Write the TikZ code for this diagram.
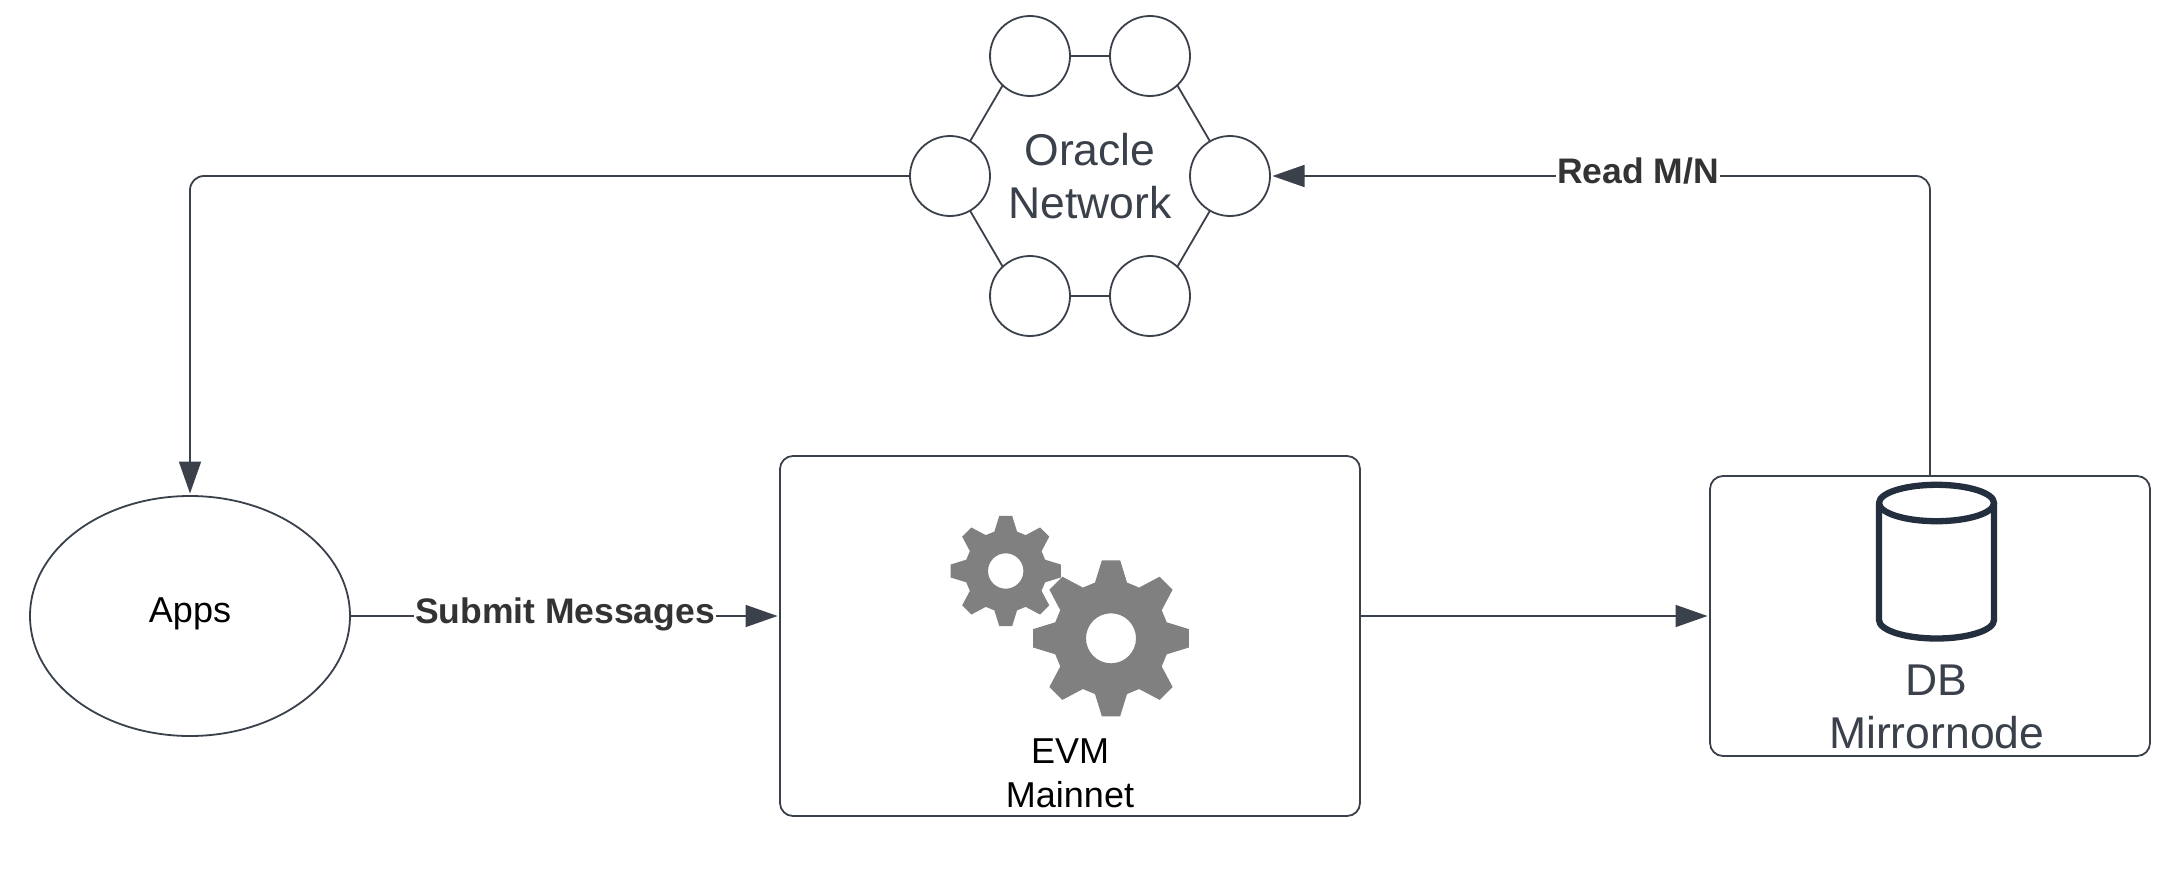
\documentclass[tikz,border=0pt]{standalone}
\usepackage{fontspec}
\setmainfont{Liberation Sans}
\usetikzlibrary{arrows.meta,shapes.geometric}
\definecolor{lineC}{HTML}{3A414A}
\definecolor{dbC}{HTML}{232F3E}
\definecolor{gearC}{HTML}{808080}
\definecolor{lblC}{HTML}{333333}
\tikzset{
  conn/.style={draw=lineC,line width=1.8pt},
  arrowconn/.style={conn,-{Triangle[length=32pt,width=22pt,color=lineC]},shorten >=2.5pt,rounded corners=14pt},
  ring/.style={circle,draw=lineC,line width=1.8pt,fill=white,minimum size=80pt,inner sep=0pt,outer sep=0pt},
  panel/.style={rectangle,draw=lineC,line width=1.8pt,fill=white,rounded corners=13pt,inner sep=0pt,outer sep=0pt},
  bigtext/.style={text=lineC,font=\fontsize{44.5}{53.5}\selectfont,align=center,inner sep=0pt},
  blacktext/.style={text=black,font=\fontsize{36}{43.5}\selectfont,align=center,inner sep=0pt},
  edgelabel/.style={text=lblC,font=\fontsize{35.5}{43}\selectfont\bfseries,fill=white,inner sep=1pt},
  gearshape/.style={fill=gearC,even odd rule,draw=none},
}
% #1 centre, #2 outer radius, #3 root radius, #4 hole radius
\newcommand{\cogwheel}[4]{%
  \fill[gearshape,shift={#1}] (-6.7:#2)
    \foreach \a in {0,45,...,315}{
      -- (\a-6.7:#2) -- (\a+6.7:#2) -- (\a+16:#3) -- (\a+29:#3)
    } -- cycle (0,0) circle[radius=#4];%
}
\begin{document}
\begin{tikzpicture}[x=1pt,y=-1pt]
\useasboundingbox[fill=white] (0,0) rectangle (2180,870);
% Oracle network
\node[ring] (n1) at (1030,56) {};
\node[ring] (n2) at (1150,56) {};
\node[ring] (n3) at (1230,176) {};
\node[ring] (n4) at (1150,296) {};
\node[ring] (n5) at (1030,296) {};
\node[ring] (n6) at (950,176) {};
\draw[conn] (n1)--(n2) (n2.313)--(n3.120) (n3.240)--(n4.47) (n4)--(n5) (n5.133)--(n6.300) (n6.60)--(n1.227);
\node[bigtext] (oracle) at (1090,176) {Oracle\\Network};
% Apps
\node[ellipse,draw=lineC,line width=1.8pt,fill=white,minimum width=320pt,minimum height=240pt,inner sep=0pt,outer sep=0pt] (apps) at (190,616) {};
\node[blacktext] (appstext) at (190,614) {Apps};
% EVM
\node[panel,minimum width=580pt,minimum height=360pt] (evm) at (1070,636) {};
\cogwheel{(1005.7,571)}{55.5}{41}{17.7}
\cogwheel{(1111,638.3)}{78.5}{58}{25}
\node[blacktext] (evmtext) at (1070,773.5) {EVM\\Mainnet};
% DB
\node[panel,minimum width=440pt,minimum height=280pt] (db) at (1930,616) {};
\draw[dbC,line width=6.3pt,line join=round] (1936.5,503) ellipse[x radius=57.5,y radius=18.2];
\draw[dbC,line width=6.3pt,line join=round] (1879,503) -- (1879,620) arc[start angle=180,end angle=360,x radius=57.5,y radius=-18.5] -- (1994,503);
\node[bigtext] (dbtext) at (1936.7,707) {DB\\Mirrornode};
% connectors
\draw[arrowconn] (n6.west) -| (apps.north);
\draw[arrowconn] (db.north) |- (n3.east);
\draw[arrowconn] (apps.east) -- (apps.east -| evm.west);
\draw[arrowconn] (apps.east -| evm.east) -- (db.west);
\node[edgelabel] (submit) at (565,614.5) {Submit Messages};
\node[edgelabel] (read) at (1638,171) {Read M/N};
\end{tikzpicture}
\end{document}
